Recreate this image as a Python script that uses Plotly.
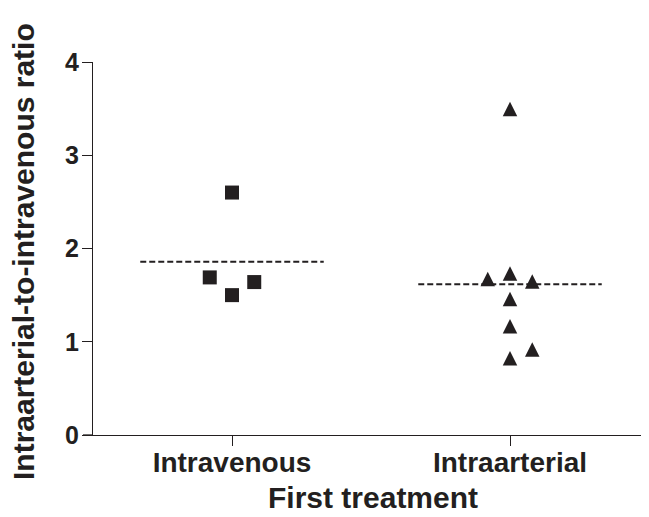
import numpy as np
import plotly.graph_objects as go

# ---- data ----
categories = ["Intravenous", "Intraarterial"]
iv_values = [2.60, 1.69, 1.50, 1.64]
iv_offsets = [0.0, -0.08, 0.0, 0.08]
ia_values = [3.50, 1.675, 1.735, 1.65, 1.46, 1.17, 0.92, 0.825]
ia_offsets = [0.0, -0.08, 0.0, 0.08, 0.0, 0.0, 0.08, 0.0]
y_ticks = [0, 1, 2, 3, 4]
x_title = "First treatment"
y_title = "Intraarterial-to-intravenous ratio"

INK = "#231f20"
FONT = "Liberation Sans, Arial, sans-serif"
OFF = 8  # page body margin
W, H = 649 - OFF, 517 - OFF
ML, MR, MT, MB = 93 - OFF, 0, 62 - OFF, 82
PW, PH = W - ML - MR, H - MT - MB

fig = go.Figure()

iv_x = [0 + o for o in iv_offsets]
ia_x = [1 + o for o in ia_offsets]

# group means (dashed lines)
half = 0.33
for i, vals in enumerate([iv_values, ia_values]):
    m = float(np.mean(vals))
    fig.add_trace(go.Scatter(
        x=[i - half, i + half], y=[m, m], mode="lines",
        line=dict(color=INK, width=2, dash="6px,3px"),
        hoverinfo="skip", showlegend=False))

fig.add_trace(go.Scatter(
    x=iv_x, y=iv_values, mode="markers", name=categories[0],
    marker=dict(symbol="square", size=14, color=INK, line=dict(width=0)),
    showlegend=False))

fig.add_trace(go.Scatter(
    x=ia_x, y=ia_values, mode="markers", name=categories[1],
    marker=dict(symbol="arrow-down", angle=180, standoff=7, size=14.5,
                color=INK, line=dict(width=0)),
    showlegend=False))

def px_x(p):
    return (p - OFF - ML) / PW

def px_y(p):
    return (MT + PH - (p - OFF)) / PH

fig.update_layout(
    width=W, height=H,
    margin=dict(l=ML, r=MR, t=MT, b=MB, pad=0),
    paper_bgcolor="white", plot_bgcolor="white",
    font=dict(family=FONT, color=INK),
    xaxis=dict(
        range=[-0.5, 1.5], tickmode="array", tickvals=[0, 1], ticktext=categories,
        showline=True, linecolor=INK, linewidth=1.3, showgrid=False, zeroline=False,
        ticks="outside", ticklen=10, tickwidth=1.3, tickcolor=INK,
        ticklabelstandoff=-8,
        tickfont=dict(family=FONT, size=28, color=INK, weight="bold"),
        fixedrange=True),
    yaxis=dict(
        range=[0, 4], tickmode="array", tickvals=y_ticks,
        ticktext=[str(t) for t in y_ticks],
        showline=True, linecolor=INK, linewidth=1.3, showgrid=False, zeroline=False,
        ticks="outside", ticklen=10, tickwidth=1.3, tickcolor=INK,
        ticklabelstandoff=-2,
        tickfont=dict(family=FONT, size=25, color=INK, weight="bold"),
        fixedrange=True),
    shapes=[dict(type="line", xref="paper", yref="paper",
                 x0=-10 / PW, x1=0, y0=0, y1=0,
                 line=dict(color=INK, width=1.3))],
    annotations=[
        dict(text=x_title, xref="paper", yref="paper",
             x=px_x(373), y=px_y(498),
             xanchor="center", yanchor="middle", showarrow=False,
             font=dict(family=FONT, size=30, color=INK, weight="bold")),
        dict(text=y_title, xref="paper", yref="paper",
             x=px_x(23), y=px_y(252), textangle=-90,
             xanchor="center", yanchor="middle", showarrow=False,
             font=dict(family=FONT, size=30, color=INK, weight="bold")),
    ],
)

fig.write_html("out.html")
